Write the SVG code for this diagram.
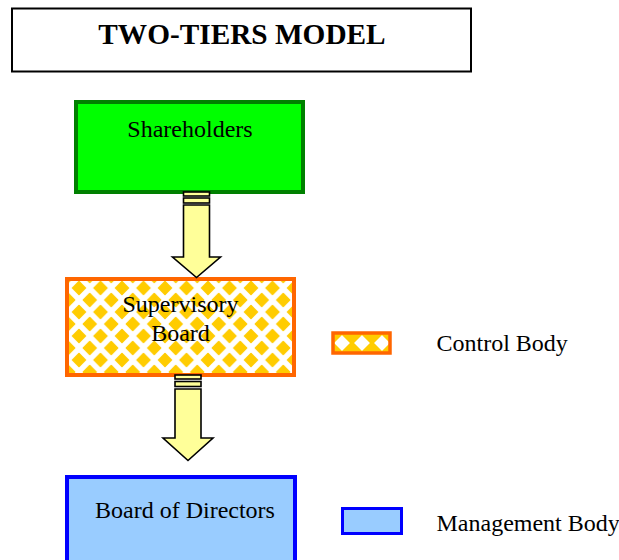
<svg xmlns="http://www.w3.org/2000/svg" width="619" height="560" viewBox="0 0 619 560">
  <defs>
    <style>
      .txt { font-family: "Liberation Serif", "Times New Roman", serif; font-size: 24px; fill: #000; }
      .title { font-family: "Liberation Serif", "Times New Roman", serif; font-size: 29.3px; font-weight: bold; fill: #000; }
      .arrow { fill: #FFFF99; stroke: #000; stroke-width: 1.6; stroke-linejoin: miter; }
      .ctrl { stroke: #FF6600; }
      .mgmt { fill: #99CCFF; stroke: #0000FF; }
      .gold { fill: #FFCC00; stroke: #FFCC00; stroke-width: 1.5; stroke-linejoin: round; }
    </style>
    <pattern id="diamonds" patternUnits="userSpaceOnUse" x="79" y="288" width="21.5" height="24">
      <rect width="21.5" height="24" fill="#FFFFFF"/>
      <polygon class="gold" points="0,-6.4 6.4,0 0,6.4 -6.4,0"/>
      <polygon class="gold" points="21.5,-6.4 27.9,0 21.5,6.4 15.1,0"/>
      <polygon class="gold" points="0,17.6 6.4,24 0,30.4 -6.4,24"/>
      <polygon class="gold" points="21.5,17.6 27.9,24 21.5,30.4 15.1,24"/>
      <polygon class="gold" points="10.75,5.6 17.15,12 10.75,18.4 4.35,12"/>
    </pattern>
    <pattern id="diamondsLegend" patternUnits="userSpaceOnUse" x="332" y="333" width="20" height="20">
      <rect width="20" height="20" fill="#FFFFFF"/>
      <polygon class="gold" points="0,-11 11,0 0,11 -11,0"/>
      <polygon class="gold" points="20,-11 31,0 20,11 9,0"/>
      <polygon class="gold" points="0,9 11,20 0,31 -11,20"/>
      <polygon class="gold" points="20,9 31,20 20,31 9,20"/>
    </pattern>
  </defs>

  <g id="title">
    <rect x="12" y="8.5" width="459" height="63" fill="#FFFFFF" stroke="#000000" stroke-width="2"/>
    <text class="title" x="242" y="44" text-anchor="middle">TWO-TIERS MODEL</text>
  </g>

  <g id="shareholders">
    <rect x="76" y="102" width="227" height="90" fill="#00FF00" stroke="#008000" stroke-width="4"/>
    <text class="txt" x="190" y="137" text-anchor="middle">Shareholders</text>
  </g>

  <g id="supervisory-board">
    <rect x="67" y="279" width="227" height="96" fill="url(#diamonds)" class="ctrl" stroke-width="4"/>
    <text class="txt" x="180.5" y="312" text-anchor="middle">Supervisory</text>
    <text class="txt" x="180.5" y="341" text-anchor="middle">Board</text>
  </g>

  <g id="board-of-directors">
    <rect x="67" y="477" width="228" height="100" class="mgmt" stroke-width="4"/>
    <text class="txt" x="95" y="518">Board of Directors</text>
  </g>

  <g id="connectors">
    <g id="arrow-shareholders-supervisory">
      <rect class="arrow" x="183.5" y="192" width="26" height="4"/>
      <rect class="arrow" x="183.5" y="198" width="26" height="5"/>
      <polygon class="arrow" points="183.5,205 209.5,205 209.5,257 220.5,257 196.5,277.5 172.5,257 183.5,257"/>
    </g>
    <g id="arrow-supervisory-directors">
      <rect class="arrow" x="175" y="375" width="26" height="4"/>
      <rect class="arrow" x="175" y="381.5" width="26" height="5"/>
      <polygon class="arrow" points="175,389 201,389 201,438 213,438 188,460.5 163,438 175,438"/>
    </g>
  </g>

  <g id="legend-control">
    <rect x="333" y="333" width="57" height="20" fill="url(#diamondsLegend)" class="ctrl" stroke-width="3.5"/>
    <text class="txt" x="436.5" y="351">Control Body</text>
  </g>

  <g id="legend-management">
    <rect x="342.5" y="508.5" width="59" height="25" class="mgmt" stroke-width="3"/>
    <text class="txt" x="436.5" y="531">Management Body</text>
  </g>
</svg>
